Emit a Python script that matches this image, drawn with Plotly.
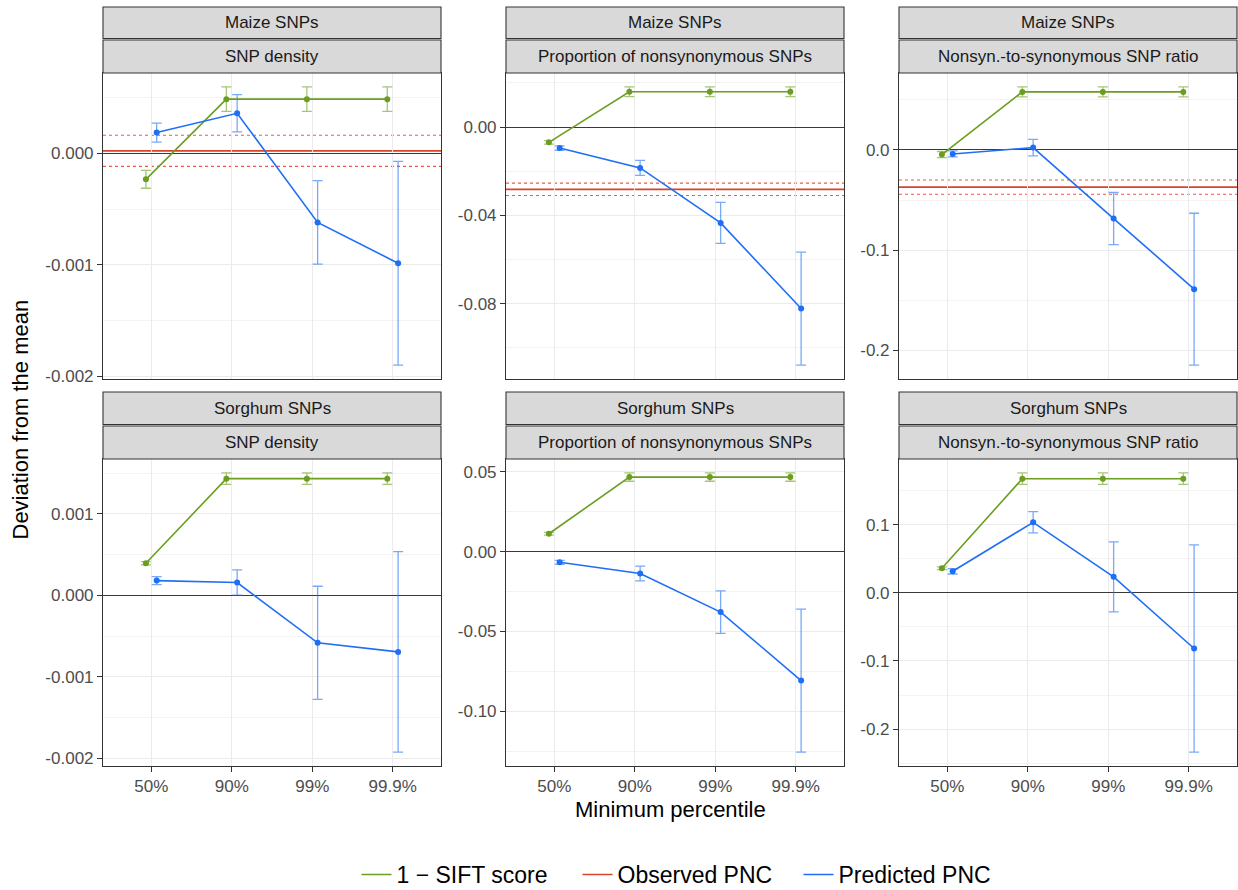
import plotly.graph_objects as go

# ---------------- data ----------------
percentiles = ["50%", "90%", "99%", "99.9%"]
species = ["Maize SNPs", "Sorghum SNPs"]
metrics = ["SNP density", "Proportion of nonsynonymous SNPs", "Nonsyn.-to-synonymous SNP ratio"]

# Maize
maize_density_sift = [-0.000232, 0.000488, 0.000488, 0.000488]
maize_density_sift_err = [0.00008, 0.00011, 0.00011, 0.00011]
maize_density_pred = [0.000188, 0.000361, -0.000619, -0.000985]
maize_density_pred_err = [0.000085, 0.000167, 0.000375, 0.000915]
maize_density_obs = 0.000024
maize_density_obs_err = 0.00014

maize_prop_sift = [-0.0069, 0.0160, 0.0160, 0.0160]
maize_prop_sift_err = [0.0008, 0.0022, 0.0022, 0.0022]
maize_prop_pred = [-0.0095, -0.0185, -0.0434, -0.0822]
maize_prop_pred_err = [0.0010, 0.0034, 0.0093, 0.0256]
maize_prop_obs = -0.0282
maize_prop_obs_err = 0.0028

maize_ratio_sift = [-0.0046, 0.0579, 0.0579, 0.0579]
maize_ratio_sift_err = [0.0030, 0.0050, 0.0050, 0.0050]
maize_ratio_pred = [-0.0040, 0.0023, -0.0685, -0.1390]
maize_ratio_pred_err = [0.0030, 0.0083, 0.0260, 0.0758]
maize_ratio_obs = -0.0371
maize_ratio_obs_err = 0.0071

# Sorghum
sorghum_density_sift = [0.000393, 0.001432, 0.001432, 0.001432]
sorghum_density_sift_err = [0.00002, 0.00007, 0.00007, 0.00007]
sorghum_density_pred = [0.000180, 0.000156, -0.000584, -0.000695]
sorghum_density_pred_err = [0.00005, 0.000155, 0.000695, 0.00123]

sorghum_prop_sift = [0.0112, 0.0467, 0.0467, 0.0467]
sorghum_prop_sift_err = [0.0008, 0.0026, 0.0026, 0.0026]
sorghum_prop_pred = [-0.0067, -0.0137, -0.0379, -0.0808]
sorghum_prop_pred_err = [0.0012, 0.0046, 0.0133, 0.0448]

sorghum_ratio_sift = [0.0361, 0.1676, 0.1676, 0.1676]
sorghum_ratio_sift_err = [0.0020, 0.0084, 0.0084, 0.0084]
sorghum_ratio_pred = [0.0317, 0.1035, 0.0235, -0.0817]
sorghum_ratio_pred_err = [0.0040, 0.0156, 0.0513, 0.1520]

# y tick labels per panel
ticks_maize_density = [0, -0.001, -0.002]
labels_maize_density = ["0.000", "-0.001", "-0.002"]
ticks_maize_prop = [0, -0.04, -0.08]
labels_maize_prop = ["0.00", "-0.04", "-0.08"]
ticks_maize_ratio = [0, -0.1, -0.2]
labels_maize_ratio = ["0.0", "-0.1", "-0.2"]
ticks_sorghum_density = [0.001, 0, -0.001, -0.002]
labels_sorghum_density = ["0.001", "0.000", "-0.001", "-0.002"]
ticks_sorghum_prop = [0.05, 0, -0.05, -0.10]
labels_sorghum_prop = ["0.05", "0.00", "-0.05", "-0.10"]
ticks_sorghum_ratio = [0.1, 0, -0.1, -0.2]
labels_sorghum_ratio = ["0.1", "0.0", "-0.1", "-0.2"]

legend_names = ["1 \u2212 SIFT score", "Observed PNC", "Predicted PNC"]

panels = [
    dict(sp=0, m=0, sift=maize_density_sift, sift_err=maize_density_sift_err,
         pred=maize_density_pred, pred_err=maize_density_pred_err,
         obs=maize_density_obs, obs_err=maize_density_obs_err,
         ticks=ticks_maize_density, labels=labels_maize_density, minor=0.0005),
    dict(sp=0, m=1, sift=maize_prop_sift, sift_err=maize_prop_sift_err,
         pred=maize_prop_pred, pred_err=maize_prop_pred_err,
         obs=maize_prop_obs, obs_err=maize_prop_obs_err,
         ticks=ticks_maize_prop, labels=labels_maize_prop, minor=0.02),
    dict(sp=0, m=2, sift=maize_ratio_sift, sift_err=maize_ratio_sift_err,
         pred=maize_ratio_pred, pred_err=maize_ratio_pred_err,
         obs=maize_ratio_obs, obs_err=maize_ratio_obs_err,
         ticks=ticks_maize_ratio, labels=labels_maize_ratio, minor=0.05),
    dict(sp=1, m=0, sift=sorghum_density_sift, sift_err=sorghum_density_sift_err,
         pred=sorghum_density_pred, pred_err=sorghum_density_pred_err,
         obs=None, obs_err=None,
         ticks=ticks_sorghum_density, labels=labels_sorghum_density, minor=0.0005),
    dict(sp=1, m=1, sift=sorghum_prop_sift, sift_err=sorghum_prop_sift_err,
         pred=sorghum_prop_pred, pred_err=sorghum_prop_pred_err,
         obs=None, obs_err=None,
         ticks=ticks_sorghum_prop, labels=labels_sorghum_prop, minor=0.025),
    dict(sp=1, m=2, sift=sorghum_ratio_sift, sift_err=sorghum_ratio_sift_err,
         pred=sorghum_ratio_pred, pred_err=sorghum_ratio_pred_err,
         obs=None, obs_err=None,
         ticks=ticks_sorghum_ratio, labels=labels_sorghum_ratio, minor=0.05),
]

# ---------------- style / layout ----------------
W, H = 1238, 890
FONT = "Liberation Sans, Arial, sans-serif"
GREEN = "#6B9E1F"
GREEN_ERR = "rgba(107,158,31,0.6)"
BLUE = "#1F6FF5"
BLUE_ERR = "rgba(31,111,245,0.6)"
RED = "#D9432B"
RED_DOT = "#EE5A43"
DODGE = 0.067

col_px = [(103, 441), (506, 844), (899, 1237)]
row_px = [(73, 379), (459, 766)]
strip_px = [[(7, 38.5), (40, 73)], [(392, 424.5), (426, 459)]]


def px_x(p):
    return p / W


def px_y(p):
    return 1 - p / H


fig = go.Figure()
shapes = []
annotations = []

for i, p in enumerate(panels):
    n = i + 1
    xa = "x" if n == 1 else f"x{n}"
    ya = "y" if n == 1 else f"y{n}"
    xs = [k + 1 for k in range(len(percentiles))]
    x_sift = [x - DODGE for x in xs]
    x_pred = [x + DODGE for x in xs]

    # observed PNC
    if p["obs"] is not None:
        shapes.append(dict(type="line", xref=f"{xa} domain", yref=ya, x0=0, x1=1,
                           y0=p["obs"], y1=p["obs"], line=dict(color=RED, width=1.7),
                           layer="below"))
        for sgn in (-1, 1):
            yv = p["obs"] + sgn * p["obs_err"]
            shapes.append(dict(type="line", xref=f"{xa} domain", yref=ya, x0=0, x1=1,
                               y0=yv, y1=yv, line=dict(color=RED_DOT, width=1.1, dash="dot"),
                               layer="below"))

    # error bars (separate traces so they can be lighter)
    fig.add_trace(go.Scatter(x=x_sift, y=p["sift"], mode="markers", xaxis=xa, yaxis=ya,
                             marker=dict(size=0.1, color="rgba(0,0,0,0)"),
                             error_y=dict(type="data", array=p["sift_err"], color=GREEN_ERR,
                                          thickness=1.3, width=5),
                             showlegend=False, hoverinfo="skip"))
    fig.add_trace(go.Scatter(x=x_pred, y=p["pred"], mode="markers", xaxis=xa, yaxis=ya,
                             marker=dict(size=0.1, color="rgba(0,0,0,0)"),
                             error_y=dict(type="data", array=p["pred_err"], color=BLUE_ERR,
                                          thickness=1.3, width=5),
                             showlegend=False, hoverinfo="skip"))
    fig.add_trace(go.Scatter(x=x_sift, y=p["sift"], mode="lines+markers", xaxis=xa, yaxis=ya,
                             line=dict(color=GREEN, width=1.6), marker=dict(size=6, color=GREEN),
                             name=legend_names[0], legendgroup="sift", showlegend=False))
    fig.add_trace(go.Scatter(x=x_pred, y=p["pred"], mode="lines+markers", xaxis=xa, yaxis=ya,
                             line=dict(color=BLUE, width=1.6), marker=dict(size=6, color=BLUE),
                             name=legend_names[2], legendgroup="pred", showlegend=False))

    # y range: ggplot-like 5% expansion
    vals = [v + e for v, e in zip(p["sift"], p["sift_err"])] + \
           [v - e for v, e in zip(p["sift"], p["sift_err"])] + \
           [v + e for v, e in zip(p["pred"], p["pred_err"])] + \
           [v - e for v, e in zip(p["pred"], p["pred_err"])] + [0]
    if p["obs"] is not None:
        vals += [p["obs"] + p["obs_err"], p["obs"] - p["obs_err"]]
    lo, hi = min(vals), max(vals)
    span = hi - lo
    yr = [lo - 0.05 * span, hi + 0.05 * span]

    r, c = p["sp"], p["m"]
    x0, x1 = col_px[c]
    yt, yb = row_px[r]
    xkey = "xaxis" if n == 1 else f"xaxis{n}"
    ykey = "yaxis" if n == 1 else f"yaxis{n}"
    fig.layout[xkey] = dict(
        domain=[px_x(x0), px_x(x1)], anchor=ya, range=[0.4, 4.6],
        tickmode="array", tickvals=xs, ticktext=percentiles,
        showticklabels=(r == 1), ticks=("outside" if r == 1 else ""), ticklen=5,
        tickcolor="#333333", ticklabelstandoff=0,
        tickfont=dict(family=FONT, size=17, color="#4D4D4D"),
        showgrid=True, gridcolor="#EBEBEB", gridwidth=1.3, zeroline=False,
        showline=True, mirror=True, linecolor="#333333", linewidth=1.1,
    )
    fig.layout[ykey] = dict(
        domain=[px_y(yb), px_y(yt)], anchor=xa, range=yr,
        tickmode="array", tickvals=p["ticks"], ticktext=p["labels"],
        ticks="outside", ticklen=5, tickcolor="#333333",
        tickfont=dict(family=FONT, size=17, color="#4D4D4D"),
        showgrid=True, gridcolor="#EBEBEB", gridwidth=1.3,
        zeroline=True, zerolinecolor="#3A3A3A", zerolinewidth=1.1,
        showline=True, mirror=True, linecolor="#333333", linewidth=1.1,
        minor=dict(tickmode="linear", tick0=0, dtick=p["minor"], showgrid=True,
                   gridcolor="#F3F3F3", gridwidth=0.8, ticks=""),
    )

    # strips
    for k, label in enumerate([species[r], metrics[c]]):
        st, sb = strip_px[r][k]
        shapes.append(dict(type="rect", xref="paper", yref="paper",
                           x0=px_x(x0), x1=px_x(x1), y0=px_y(sb), y1=px_y(st),
                           fillcolor="#D9D9D9", line=dict(color="#333333", width=1.1),
                           layer="above"))
        annotations.append(dict(xref="paper", yref="paper", x=px_x((x0 + x1) / 2),
                                y=px_y((st + sb) / 2), text=label, showarrow=False,
                                xanchor="center", yanchor="middle",
                                font=dict(family=FONT, size=17, color="#1A1A1A")))

# legend-only entries (lines without markers, as in the reference)
for name, col in zip(legend_names, [GREEN, RED, BLUE]):
    fig.add_trace(go.Scatter(x=[None], y=[None], mode="lines", line=dict(color=col, width=1.6),
                             name=name, showlegend=True, hoverinfo="skip"))

annotations.append(dict(xref="paper", yref="paper", x=px_x(20), y=px_y(419.5),
                        text="Deviation from the mean", textangle=-90, showarrow=False,
                        xanchor="center", yanchor="middle",
                        font=dict(family=FONT, size=22, color="#000000")))
annotations.append(dict(xref="paper", yref="paper", x=px_x(670), y=px_y(809),
                        text="Minimum percentile", showarrow=False,
                        xanchor="center", yanchor="middle",
                        font=dict(family=FONT, size=22, color="#000000")))

fig.update_layout(
    width=W, height=H, margin=dict(l=0, r=0, t=0, b=0, autoexpand=False),
    paper_bgcolor="white", plot_bgcolor="white",
    shapes=shapes, annotations=annotations,
    legend=dict(orientation="h", xanchor="center", x=px_x(688), yanchor="bottom",
                y=-6 / H, font=dict(family=FONT, size=23, color="#000000"),
                bgcolor="rgba(0,0,0,0)", traceorder="normal", itemwidth=30,
                entrywidth=176),
    font=dict(family=FONT),
)

fig.write_html("out.html")
